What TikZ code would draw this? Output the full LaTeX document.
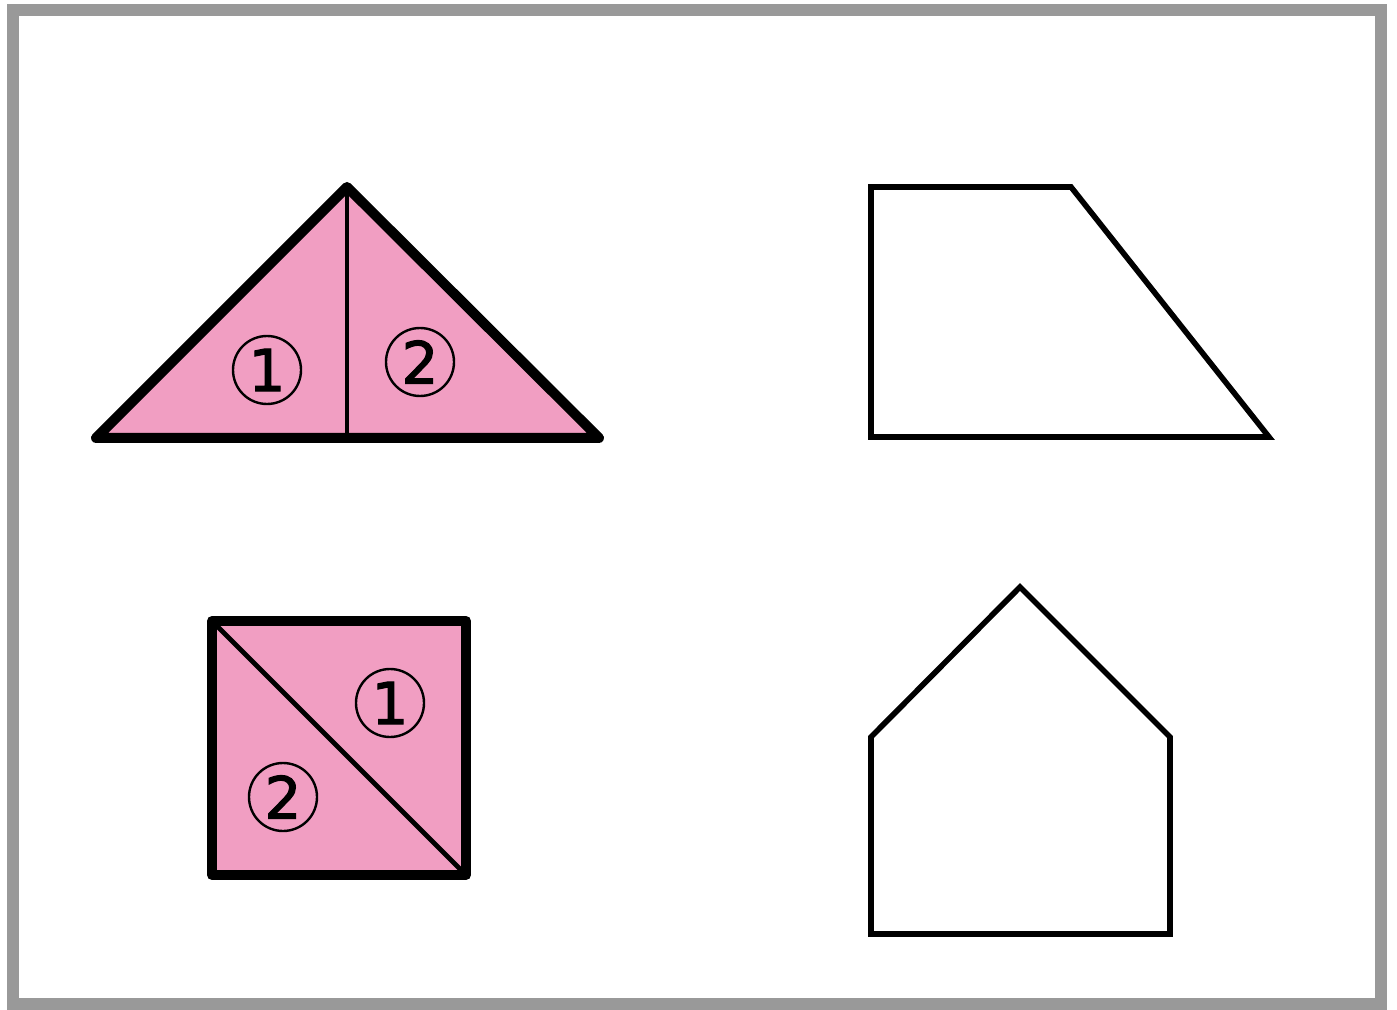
\documentclass[tikz,border=0pt]{standalone}
\usepackage{fontspec}
\newfontfamily\numfont[FakeBold=2]{DejaVu Sans}
\definecolor{piece}{HTML}{F19EC2}
\definecolor{frame}{HTML}{999999}
\tikzset{
  thickedge/.style={line width=5pt, line join=round, line cap=round},
  cutline/.style={line width=2.4pt},
  outline/.style={line width=2.8pt, line join=miter},
  numlabel/.style={circle, draw, line width=1.2pt, minimum size=34pt, inner sep=0pt, font=\numfont\fontsize{29}{29}\selectfont}
}
\begin{document}
\begin{tikzpicture}[x=0.5pt,y=-0.5pt]
\useasboundingbox (0,0) rectangle (1397,1010);
\fill[white] (0,0) rectangle (1397,1010);
\draw[frame, line width=6pt] (13,10) rectangle (1381,1004);
% triangle made of two pieces
\fill[piece] (96,438) -- (347,187) -- (599,438) -- cycle;
\draw[cutline] (347,187) -- (347,438);
\draw[thickedge] (96,438) -- (347,187) -- (599,438) -- cycle;
\node[numlabel] (t1) at (267,370) {1};
\node[numlabel] (t2) at (420,362) {2};
% square made of two pieces
\fill[piece] (212,621) rectangle (466,875);
\draw[cutline] (212,621) -- (466,875);
\draw[thickedge, line cap=butt] (212,621) rectangle (466,875);
\node[numlabel] (s1) at (390,703) {1};
\node[numlabel] (s2) at (283,797) {2};
% trapezoid
\draw[outline] (871,187) -- (1071,187) -- (1269,437) -- (871,437) -- cycle;
% house
\draw[outline] (1020,587) -- (1170,737) -- (1170,934) -- (871,934) -- (871,737) -- cycle;
\end{tikzpicture}
\end{document}
